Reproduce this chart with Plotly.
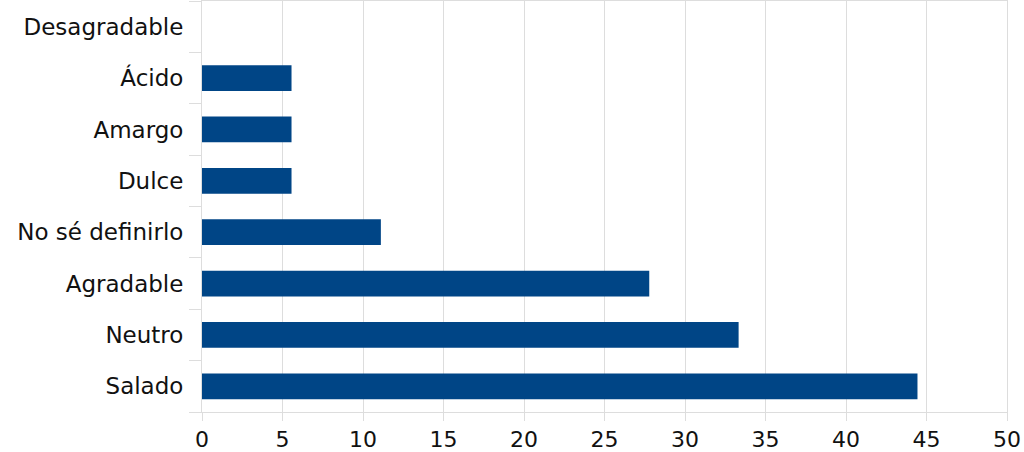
import plotly.graph_objects as go

categories = ["Salado", "Neutro", "Agradable", "No sé definirlo", "Dulce", "Amargo", "Ácido", "Desagradable"]
values = [44.44, 33.33, 27.78, 11.11, 5.56, 5.56, 5.56, 0]
x_ticks = [0, 5, 10, 15, 20, 25, 30, 35, 40, 45, 50]

fig = go.Figure(go.Bar(
    x=values, y=categories, orientation="h",
    marker=dict(color="#004586", line=dict(width=0)),
))

fig.update_layout(
    width=1024, height=452,
    margin=dict(l=202, r=17, t=0, b=39),
    plot_bgcolor="white", paper_bgcolor="white",
    bargap=0.5, showlegend=False,
    font=dict(family="DejaVu Sans", size=22, color="#111111"),
)
fig.update_xaxes(
    range=[0, 50], tickvals=x_ticks, showgrid=True, gridcolor="#dddddd", gridwidth=1,
    zeroline=False, showline=True, linecolor="#dddddd", mirror=True,
    ticks="outside", ticklen=8, tickcolor="#dddddd",
    tickfont=dict(size=22, family="DejaVu Sans", color="#111111"),
)
fig.update_yaxes(
    type="category", categoryorder="array", categoryarray=categories,
    showgrid=False, showline=True, linecolor="#dddddd", mirror=True,
    ticks="outside", tickson="boundaries", ticklen=12, tickcolor="#dddddd",
    ticklabelstandoff=13,
    tickfont=dict(size=23, family="DejaVu Sans", color="#111111"),
)

fig.write_html("out.html")
